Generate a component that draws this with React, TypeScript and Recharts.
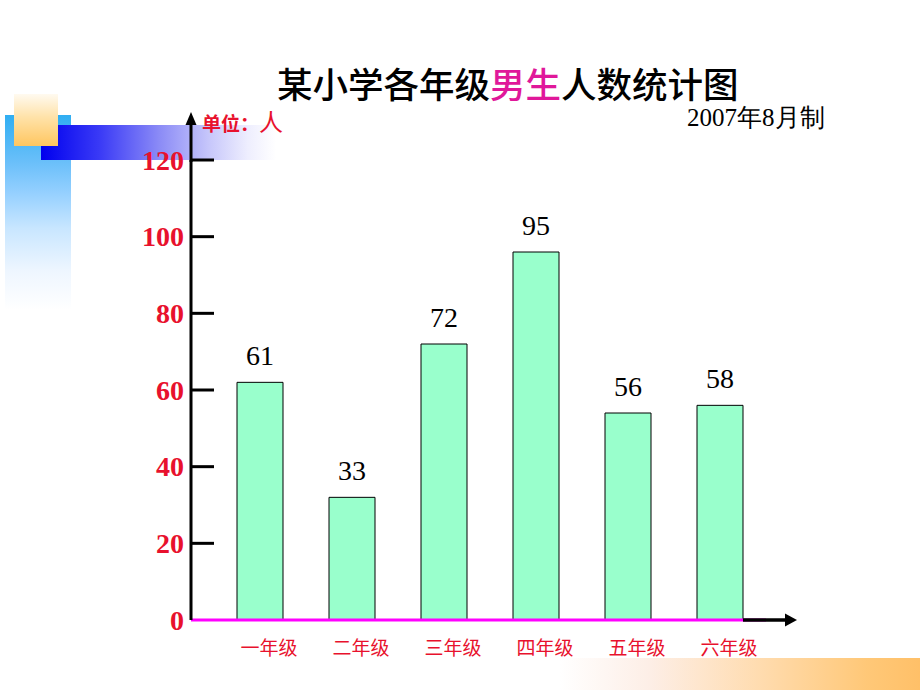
import { BarChart, Bar, XAxis, YAxis, LabelList } from "recharts";

const grades = ["一年级", "二年级", "三年级", "四年级", "五年级", "六年级"];
// bar heights as drawn in the picture
const drawnCounts = [62, 32, 72, 96, 54, 56];
// numbers written above the bars
const labelCounts = [61, 33, 72, 95, 56, 58];
const yTicks = [0, 20, 40, 60, 80, 100, 120];

const data = grades.map((grade, i) => ({
  grade,
  count: drawnCounts[i],
  label: labelCounts[i],
}));

const RED = "#e8112d";
const SERIF = '"Liberation Serif", "Times New Roman", serif';
const CJK = '"Noto Sans CJK SC", "Noto Sans", sans-serif';

function YTick(props: any) {
  const { x, y, payload } = props;
  return (
    <g>
      {payload.value !== 0 && (
        <line x1={x + 7} x2={x + 30} y1={y} y2={y} stroke="#000" strokeWidth={3} />
      )}
      <text
        x={x}
        y={y}
        textAnchor="end"
        dominantBaseline="central"
        fill={RED}
        fontFamily={SERIF}
        fontWeight="bold"
        fontSize={28}
      >
        {payload.value}
      </text>
    </g>
  );
}

function XTick(props: any) {
  const { x, y, payload } = props;
  return (
    <text
      x={x + 9}
      y={y + 26}
      textAnchor="middle"
      dominantBaseline="central"
      fill={RED}
      fontFamily={CJK}
      fontSize={19}
    >
      {payload.value}
    </text>
  );
}

export default function App() {
  return (
    <div
      style={{
        position: "absolute",
        left: 0,
        top: 0,
        width: 920,
        height: 690,
        background: "#fff",
        overflow: "hidden",
      }}
    >
      {/* slide decorations */}
      <div
        style={{
          position: "absolute",
          left: 5,
          top: 115,
          width: 66,
          height: 195,
          background:
            "linear-gradient(to bottom, #30aef2 0%, #6cc0fa 25%, #95d0ff 40%, #c8e6ff 58%, #eef6ff 80%, rgba(255,255,255,0) 100%)",
        }}
      />
      <div
        style={{
          position: "absolute",
          left: 41,
          top: 125,
          width: 235,
          height: 35,
          background:
            "linear-gradient(to right, #0000ee 0%, #3a3af6 25%, #8a8af6 50%, #c8c8fb 72%, #eeeefe 88%, rgba(255,255,255,0) 100%)",
        }}
      />
      <div
        style={{
          position: "absolute",
          left: 14,
          top: 94,
          width: 44,
          height: 52,
          background: "linear-gradient(to bottom, #fffaf0 0%, #ffe2a8 45%, #ffc660 100%)",
        }}
      />
      <div
        style={{
          position: "absolute",
          left: 560,
          top: 658,
          width: 360,
          height: 32,
          background:
            "linear-gradient(to right, rgba(255,255,255,0) 0%, #fdeee6 25%, #ffdcb0 55%, #ffc878 85%, #ffc068 100%)",
        }}
      />

      {/* texts */}
      <div
        style={{
          position: "absolute",
          left: 277,
          top: 60,
          fontFamily: CJK,
          fontSize: 35.5,
          fontWeight: 500,
          color: "#000",
          whiteSpace: "nowrap",
          lineHeight: "46px",
        }}
      >
        某小学各年级<span style={{ color: "#e0189a" }}>男生</span>人数统计图
      </div>
      <div
        style={{
          position: "absolute",
          left: 202,
          top: 106,
          fontFamily: CJK,
          color: RED,
          whiteSpace: "nowrap",
          lineHeight: "30px",
        }}
      >
        <span style={{ fontSize: 19, fontWeight: 700 }}>单位：</span>
        <span style={{ fontSize: 24 }}>人</span>
      </div>
      <div
        style={{
          position: "absolute",
          left: 687,
          top: 103,
          fontFamily: SERIF,
          fontSize: 25,
          color: "#000",
          whiteSpace: "nowrap",
          lineHeight: "30px",
        }}
      >
        2007年8月制
      </div>

      <BarChart
        width={920}
        height={690}
        data={data}
        margin={{ top: 160, right: 154, bottom: 30, left: 131 }}
        style={{ position: "absolute", left: 0, top: 0 }}
      >
        <XAxis
          dataKey="grade"
          height={40}
          padding={{ left: 23, right: 0 }}
          axisLine={{ stroke: "#ff00ff", strokeWidth: 3 }}
          tickLine={false}
          tickSize={0}
          tickMargin={0}
          tick={<XTick />}
          interval={0}
        />
        <YAxis
          width={60}
          domain={[0, 120]}
          ticks={yTicks}
          allowDataOverflow
          axisLine={{ stroke: "#000", strokeWidth: 3 }}
          tickLine={false}
          tickSize={0}
          tickMargin={7}
          tick={<YTick />}
        />
        <Bar
          dataKey="count"
          fill="#99ffcc"
          stroke="#000"
          strokeWidth={1}
          barSize={46}
          isAnimationActive={false}
        >
          <LabelList
            dataKey="label"
            position="top"
            offset={17}
            fill="#000"
            fontSize={28}
            fontFamily={SERIF}
          />
        </Bar>
      </BarChart>

      {/* axis arrows */}
      <svg
        width={920}
        height={690}
        style={{ position: "absolute", left: 0, top: 0, pointerEvents: "none" }}
      >
        <line x1={191} x2={191} y1={162} y2={120} stroke="#000" strokeWidth={3} />
        <polygon points="191,112 185.5,125 196.5,125" fill="#000" />
        <line x1={743} x2={788} y1={620} y2={620} stroke="#000" strokeWidth={3.5} />
        <polygon points="797,620 785,613.5 785,626.5" fill="#000" />
      </svg>
    </div>
  );
}
